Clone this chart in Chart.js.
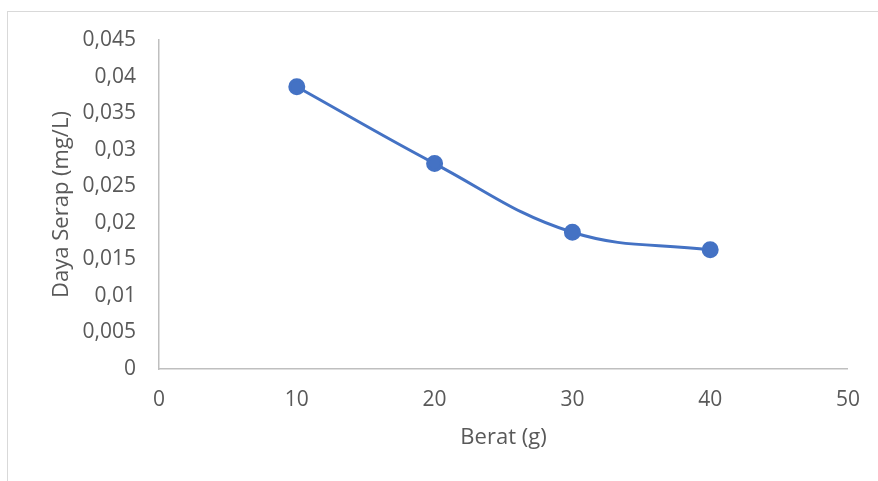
<!DOCTYPE html>
<html>
<head>
<meta charset="utf-8">
<script src="https://cdn.jsdelivr.net/npm/chart.js@4"></script>
<style>
  html, body { margin: 0; padding: 0; background: #fff; }
  #wrap { position: relative; width: 878px; height: 481px; overflow: hidden; }
  #frame { position: absolute; left: 7px; top: 11px; width: 900px; height: 500px; border: 1px solid #d9d9d9; box-sizing: border-box; }
  canvas { position: absolute; left: 0; top: 0; }
</style>
</head>
<body>
<div id="wrap">
  <div id="frame"></div>
  <canvas id="chart" width="878" height="481"></canvas>
</div>
<script>
const beratValues = [10, 20, 30, 40];
const dayaSerapValues = [0.0386, 0.0281, 0.0187, 0.0163];
const xTicks = [0, 10, 20, 30, 40, 50];
const yTicks = [0, 0.005, 0.01, 0.015, 0.02, 0.025, 0.03, 0.035, 0.04, 0.045];

const textColor = "#595959";
const fontFamily = "'Open Sans', sans-serif";

const fmt = v => String(Math.round(v * 1000) / 1000).replace(".", ",");

const points = beratValues.map((x, i) => ({ x: x, y: dayaSerapValues[i] }));

new Chart(document.getElementById("chart"), {
  type: "scatter",
  data: {
    datasets: [{
      label: "Daya Serap",
      data: points,
      showLine: true,
      borderColor: "#4472C4",
      backgroundColor: "#4472C4",
      borderWidth: 3,
      pointRadius: 7,
      pointHoverRadius: 7,
      tension: 0.4
    }]
  },
  options: {
    responsive: false,
    animation: false,
    layout: { padding: { left: 49, top: 40, right: 27, bottom: 30 } },
    plugins: { legend: { display: false }, tooltip: { enabled: false } },
    scales: {
      x: {
        type: "linear",
        min: 0,
        max: 50,
        afterBuildTicks: s => { s.ticks = xTicks.map(v => ({ value: v })); },
        afterFit: s => { s.height = 481 - 369 - 30; },
        grid: { display: false, drawTicks: false },
        border: { display: true, color: "#bfbfbf", width: 1.5 },
        ticks: { color: textColor, font: { family: fontFamily, size: 21 }, padding: 18, maxRotation: 0 },
        title: { display: true, text: "Berat (g)", color: textColor, font: { family: fontFamily, size: 22 }, padding: 0 }
      },
      y: {
        min: 0,
        max: 0.045,
        afterBuildTicks: s => { s.ticks = yTicks.map(v => ({ value: v })); },
        afterFit: s => { s.width = 159 - 49; },
        grid: { display: false, drawTicks: false },
        border: { display: true, color: "#bfbfbf", width: 1.5 },
        ticks: { color: textColor, font: { family: fontFamily, size: 21 }, padding: 23, callback: v => fmt(v) },
        title: { display: true, text: "Daya Serap (mg/L)", color: textColor, font: { family: fontFamily, size: 22 }, padding: 0 }
      }
    }
  }
});
</script>
</body>
</html>
